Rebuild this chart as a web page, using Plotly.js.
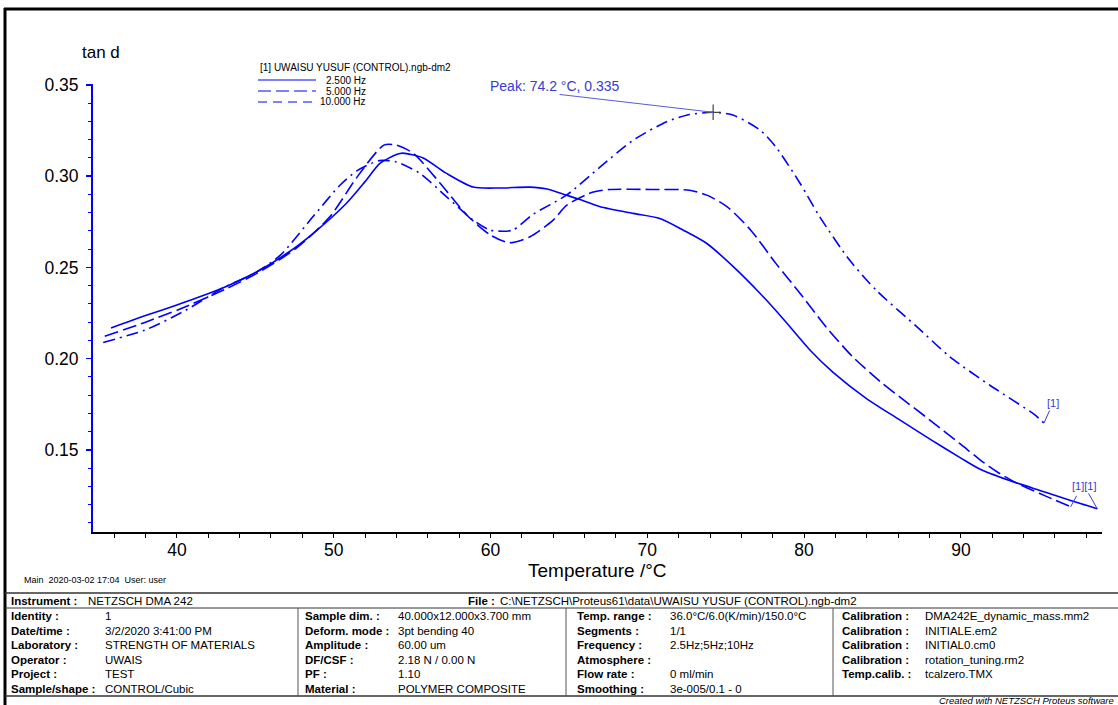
<!DOCTYPE html>
<html>
<head>
<meta charset="utf-8">
<script src="https://cdn.plot.ly/plotly-3.0.1.min.js"></script>
<style>
html,body{margin:0;padding:0;background:#fff;}
#chart{width:1118px;height:705px;}
</style>
</head>
<body>
<div id="chart"></div>
<script>
// ---------------- data ----------------
const seriesNames = ['2.500 Hz', '5.000 Hz', '10.000 Hz'];

const temp2_5Hz = [35.8, 38.0, 40.0, 41.5, 43.0, 45.1, 47.0, 48.7, 50.8, 52.0, 52.95, 54.0, 54.4, 55.7, 57.2, 58.9, 60.6, 62.5, 63.6, 64.85, 65.7, 67.0, 69.1, 70.8, 72.3, 73.8, 75.5, 77.2, 78.7, 80.4, 81.85, 84.0, 86.0, 88.0, 90.0, 91.2, 93.0, 95.4, 97.0, 98.7];
const tand2_5Hz = [0.2168, 0.2236, 0.2294, 0.2340, 0.2390, 0.2476, 0.2576, 0.2687, 0.2850, 0.2970, 0.3070, 0.3118, 0.3126, 0.3100, 0.3015, 0.2940, 0.2935, 0.2940, 0.2930, 0.2896, 0.2872, 0.2832, 0.2796, 0.2768, 0.2704, 0.2631, 0.2503, 0.2357, 0.2215, 0.2045, 0.1925, 0.1780, 0.1670, 0.1560, 0.1455, 0.1395, 0.1335, 0.1268, 0.1222, 0.1177];

const temp5Hz = [35.4, 38.0, 40.2, 43.2, 45.1, 47.6, 49.75, 51.5, 53.2, 54.0, 55.1, 56.8, 58.5, 60.0, 61.2, 62.5, 64.0, 64.85, 66.5, 67.6, 70.2, 72.7, 73.8, 75.1, 76.6, 78.2, 79.75, 81.4, 83.1, 85.0, 86.1, 88.0, 90.0, 91.2, 92.3, 93.6, 95.0, 96.0, 97.0];
const tand5Hz = [0.2123, 0.2200, 0.2272, 0.2385, 0.2467, 0.2604, 0.2777, 0.2996, 0.3170, 0.3170, 0.3124, 0.2960, 0.2786, 0.2677, 0.2635, 0.2667, 0.2759, 0.2840, 0.2912, 0.2927, 0.2927, 0.2923, 0.2896, 0.2832, 0.2704, 0.2522, 0.2357, 0.2174, 0.2010, 0.1864, 0.1790, 0.1665, 0.1530, 0.1447, 0.1380, 0.1316, 0.1262, 0.1225, 0.1188];

const temp10Hz = [35.3, 38.0, 40.5, 43.0, 45.0, 46.6, 48.7, 50.4, 51.5, 52.9, 54.0, 55.5, 57.2, 58.9, 60.0, 61.4, 62.7, 64.85, 67.0, 69.1, 71.2, 72.5, 74.2, 75.5, 77.2, 78.2, 79.75, 81.0, 82.9, 84.6, 87.2, 89.3, 91.85, 94.7, 95.3];
const tand10Hz = [0.2089, 0.2158, 0.2262, 0.2390, 0.2470, 0.2567, 0.2780, 0.2950, 0.3030, 0.3085, 0.3078, 0.3015, 0.2887, 0.2759, 0.2704, 0.2704, 0.2790, 0.2896, 0.3051, 0.3197, 0.3297, 0.3334, 0.3350, 0.3334, 0.3252, 0.3160, 0.2960, 0.2777, 0.2540, 0.2375, 0.2174, 0.2010, 0.1854, 0.1693, 0.1647];

const peakT = 74.2;
const peakV = 0.335;

const xTickLabels = ['40', '50', '60', '70', '80', '90'];
const yTickLabels = ['0.15', '0.20', '0.25', '0.30', '0.35'];
const xTitle = 'Temperature /°C';
const yTitle = 'tan d';

// table text
const instrumentLabel = 'Instrument :', instrumentValue = 'NETZSCH DMA 242';
const fileLabel = 'File :', fileValue = 'C:\\NETZSCH\\Proteus61\\data\\UWAISU YUSUF (CONTROL).ngb-dm2';
const col1Labels = ['Identity :', 'Date/time :', 'Laboratory :', 'Operator :', 'Project :', 'Sample/shape :'];
const col1Values = ['1', '3/2/2020 3:41:00 PM', 'STRENGTH OF MATERIALS', 'UWAIS', 'TEST', 'CONTROL/Cubic'];
const col2Labels = ['Sample dim. :', 'Deform. mode :', 'Amplitude :', 'DF/CSF :', 'PF :', 'Material :'];
const col2Values = ['40.000x12.000x3.700 mm', '3pt bending 40', '60.00 um', '2.18 N / 0.00 N', '1.10', 'POLYMER COMPOSITE'];
const col3Labels = ['Temp. range :', 'Segments :', 'Frequency :', 'Atmosphere :', 'Flow rate :', 'Smoothing :'];
const col3Values = ['36.0°C/6.0(K/min)/150.0°C', '1/1', '2.5Hz;5Hz;10Hz', '', '0 ml/min', '3e-005/0.1 - 0'];
const col4Labels = ['Calibration :', 'Calibration :', 'Calibration :', 'Calibration :', 'Temp.calib. :'];
const col4Values = ['DMA242E_dynamic_mass.mm2', 'INITIALE.em2', 'INITIAL0.cm0', 'rotation_tuning.rm2', 'tcalzero.TMX'];
const headerText = 'Main  2020-03-02 17:04  User: user';
const legendTitle = '[1] UWAISU YUSUF (CONTROL).ngb-dm2';
const footerText = 'Created with NETZSCH Proteus software';

// ---------------- layout helpers ----------------
const L = 93, R = 1102, T = 84, B = 532;
const px = x => (x - L) / (R - L);
const py = y => (B - y) / (B - T);
const FONT = 'Arial, "Liberation Sans", sans-serif';
const BLUE = 'rgb(0,0,255)';
const LBLUE = '#3a3ad0';

const dashes = ['solid', '14px,5px', '12px,5px,2px,5px'];
const legendDashes = ['solid', '13px,5px', '9px,6px'];

const traces = [
  {x: temp2_5Hz, y: tand2_5Hz, name: seriesNames[0]},
  {x: temp5Hz, y: tand5Hz, name: seriesNames[1]},
  {x: temp10Hz, y: tand10Hz, name: seriesNames[2]}
].map((t, i) => Object.assign(t, {
  type: 'scatter', mode: 'lines',
  line: {color: BLUE, width: 1.6, dash: dashes[i], shape: 'spline', smoothing: 0.7},
  showlegend: false, hoverinfo: 'x+y'
}));

traces.push({
  type: 'scatter', mode: 'markers', x: [peakT], y: [peakV], showlegend: false,
  marker: {symbol: 'cross-thin', size: 11, line: {width: 1.2, color: '#444'}}
});

const ann = [];
const shapes = [];
function txt(x, y, text, opts) {
  ann.push(Object.assign({
    xref: 'paper', yref: 'paper', x: px(x), y: py(y), text: text, showarrow: false,
    xanchor: 'left', yanchor: 'middle', font: {family: FONT, size: 11.5, color: '#000'}
  }, opts || {}));
}
function hline(x0, x1, y, w, c) {
  shapes.push({type: 'line', xref: 'paper', yref: 'paper', x0: px(x0), x1: px(x1), y0: py(y), y1: py(y), line: {color: c || '#222', width: w || 1}});
}
function vline(x, y0, y1, w, c) {
  shapes.push({type: 'line', xref: 'paper', yref: 'paper', x0: px(x), x1: px(x), y0: py(y0), y1: py(y1), line: {color: c || '#222', width: w || 1}});
}

// outer frame
vline(5, 8, 710, 3, '#000');
hline(4, 1125, 9, 3, '#000');

// axis titles
txt(101, 52, yTitle, {xanchor: 'center', font: {family: FONT, size: 17, color: '#000'}});
txt(597, 570, xTitle, {xanchor: 'center', font: {family: FONT, size: 19, color: '#000'}});

// legend block
txt(258, 68, legendTitle, {font: {family: FONT, size: 10, color: '#000'}});
[80, 91, 102].forEach((yy, i) => {
  shapes.push({type: 'line', xref: 'paper', yref: 'paper', x0: px(258), x1: px(316), y0: py(yy), y1: py(yy),
    line: {color: BLUE, width: 1.2, dash: legendDashes[i]}});
  txt(368, yy, seriesNames[i], {xanchor: 'right', font: {family: FONT, size: 10, color: '#000'}});
});

// peak annotation
ann.push({x: peakT, y: peakV, xref: 'x', yref: 'y', text: `Peak: ${peakT} °C, ${peakV}`, showarrow: false,
  xshift: -158, yshift: 26, font: {family: FONT, size: 14, color: LBLUE}});
ann.push({x: peakT, y: peakV, xref: 'x', yref: 'y', text: '', showarrow: true, arrowhead: 0,
  arrowwidth: 1, arrowcolor: '#5a5ad8', ax: -155, ay: -18, standoff: 0, startstandoff: 0});

// end labels
const last = a => a[a.length - 1];
ann.push({x: last(temp10Hz), y: last(tand10Hz), xref: 'x', yref: 'y', text: '[1]', showarrow: true,
  arrowhead: 0, arrowwidth: 1, arrowcolor: LBLUE, ax: 9, ay: -20, font: {family: FONT, size: 11, color: LBLUE}});
ann.push({x: last(temp2_5Hz), y: last(tand2_5Hz), xref: 'x', yref: 'y', text: '[1][1]', showarrow: true,
  arrowhead: 0, arrowwidth: 1, arrowcolor: LBLUE, ax: -13, ay: -23, font: {family: FONT, size: 11, color: LBLUE}});
ann.push({x: last(temp5Hz), y: last(tand5Hz), xref: 'x', yref: 'y', text: ' ', showarrow: true,
  arrowhead: 0, arrowwidth: 1, arrowcolor: LBLUE, ax: 7, ay: -13, font: {family: FONT, size: 1, color: LBLUE}});

// header line below plot
txt(22, 580, headerText, {font: {family: FONT, size: 9, color: '#000'}});

// table
hline(5, 1125, 593, 1.5, '#333');
hline(5, 1125, 608, 1, '#333');
hline(5, 1125, 696, 1.5, '#333');
[298, 566, 833].forEach(x => vline(x, 608, 696, 1, '#555'));

const bold = s => `<b>${s}</b>`;
txt(9, 601, bold(instrumentLabel));
txt(86, 601, instrumentValue);
txt(466, 601, bold(fileLabel));
txt(498, 601, fileValue);

const rowY = [616, 630.5, 645, 659.5, 674, 688.5];
function col(labels, values, xl, xv) {
  labels.forEach((l, i) => { txt(xl, rowY[i], bold(l)); if (values[i]) txt(xv, rowY[i], values[i]); });
}
col(col1Labels, col1Values, 9, 103);
col(col2Labels, col2Values, 303, 396);
col(col3Labels, col3Values, 575, 668);
col(col4Labels, col4Values, 840, 923);

txt(1116, 700, `<i>${footerText}</i>`, {xanchor: 'right', font: {family: FONT, size: 9.5, color: '#000'}});

const layout = {
  width: 1118, height: 705,
  margin: {l: L, r: 1118 - R, t: T, b: 705 - B, pad: 0},
  paper_bgcolor: '#fff', plot_bgcolor: '#fff',
  showlegend: false,
  font: {family: FONT, color: '#000'},
  xaxis: {
    range: [34.65, 99], tickmode: 'array', tickvals: xTickLabels.map(Number), ticktext: xTickLabels,
    ticks: 'outside', ticklen: 4, tickwidth: 1, tickcolor: '#000',
    minor: {dtick: 2, tick0: 0, ticks: 'outside', ticklen: 4, tickcolor: '#000', tickwidth: 1, showgrid: false},
    showline: true, linecolor: '#000', linewidth: 2, showgrid: false, zeroline: false,
    tickfont: {family: FONT, size: 17.5, color: '#000'}, ticklabelstandoff: -3,
    automargin: false
  },
  yaxis: {
    range: [0.105, 0.3505], tickmode: 'array', tickvals: yTickLabels.map(Number), ticktext: yTickLabels,
    ticks: 'outside', ticklen: 5, tickwidth: 1.5, tickcolor: BLUE,
    minor: {dtick: 0.01, tick0: 0, ticks: 'outside', ticklen: 3, tickcolor: BLUE, tickwidth: 1, showgrid: false},
    showline: true, linecolor: BLUE, linewidth: 2, showgrid: false, zeroline: false,
    tickfont: {family: FONT, size: 17.5, color: '#000'}, ticklabelstandoff: 4,
    automargin: false
  },
  annotations: ann,
  shapes: shapes
};

Plotly.newPlot('chart', traces, layout, {displayModeBar: false, staticPlot: true});
</script>
</body>
</html>
